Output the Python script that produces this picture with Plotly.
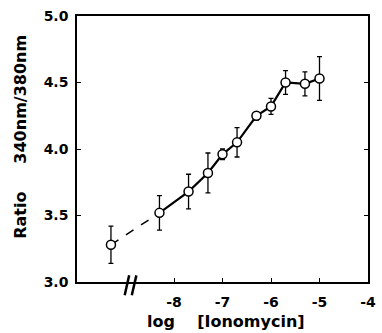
import plotly.graph_objects as go

# log [Ionomycin] (first point = control, plotted left of the axis break)
log_conc = [-9.3, -8.3, -7.7, -7.3, -7.0, -6.7, -6.3, -6.0, -5.7, -5.3, -5.0]
ratio = [3.28, 3.52, 3.68, 3.82, 3.96, 4.05, 4.25, 4.32, 4.50, 4.49, 4.53]
ratio_err = [0.14, 0.13, 0.13, 0.15, 0.04, 0.11, 0.03, 0.06, 0.09, 0.09, 0.165]

x_tickvals = [-8, -7, -6, -5, -4]
x_ticktext = ["-8", "-7", "-6", "-5", "-4"]
y_tickvals = [3.0, 3.5, 4.0, 4.5, 5.0]

FONT = "DejaVu Sans"

fig = go.Figure()

# dashed segment from control to first concentration
fig.add_trace(go.Scatter(
    x=log_conc[:2], y=ratio[:2], mode="lines",
    line=dict(color="black", width=1.5, dash="dash"),
    hoverinfo="skip", showlegend=False,
))
# solid line through concentration points
fig.add_trace(go.Scatter(
    x=log_conc[1:], y=ratio[1:], mode="lines",
    line=dict(color="black", width=2.2),
    hoverinfo="skip", showlegend=False,
))
# markers with error bars
fig.add_trace(go.Scatter(
    x=log_conc, y=ratio, mode="markers",
    marker=dict(symbol="circle", size=9, color="white",
                line=dict(color="black", width=1.5)),
    error_y=dict(type="data", array=ratio_err, visible=True,
                 color="black", thickness=1.3, width=2.5),
    showlegend=False,
))

# axis break marks
for x0, x1 in [(0.1639, 0.1793), (0.1883, 0.2040)]:
    fig.add_shape(type="line", xref="paper", yref="paper",
                  x0=x0, y0=-0.05, x1=x1, y1=0.025,
                  line=dict(color="black", width=2.5))

NB = "\u00a0"
fig.add_annotation(
    text="Ratio" + NB * 5 + "340nm/380nm", textangle=-90,
    xref="paper", yref="paper", x=-0.195, y=0.547,
    xanchor="center", yanchor="middle", showarrow=False,
    font=dict(family=FONT, size=16, color="black", weight="bold"),
)
fig.add_annotation(
    text="log" + NB * 4 + "[Ionomycin]",
    xref="paper", yref="paper", x=0.512, y=-0.150,
    xanchor="center", yanchor="middle", showarrow=False,
    font=dict(family=FONT, size=16, color="black", weight="bold"),
)

fig.update_layout(
    width=382, height=333,
    margin=dict(l=77, r=6, t=16, b=51),
    paper_bgcolor="white", plot_bgcolor="white",
    font=dict(family=FONT, size=14, color="black", weight="bold"),
    xaxis=dict(
        range=[-10, -4], tickvals=x_tickvals, ticktext=x_ticktext,
        ticks="inside", ticklen=4, tickwidth=1, tickcolor="black",
        showline=True, linecolor="black", linewidth=1.5, mirror=True,
        showgrid=False, zeroline=False, ticklabelstandoff=6,
        ticklabeloverflow="allow",
        tickfont=dict(family=FONT, size=14, color="black", weight="bold"),
    ),
    yaxis=dict(
        range=[3.0, 5.0], tickvals=y_tickvals, tickformat=".1f",
        ticks="inside", ticklen=4, tickwidth=1, tickcolor="black",
        showline=True, linecolor="black", linewidth=1.5, mirror="ticks",
        showgrid=False, zeroline=False, ticklabelstandoff=4,
        ticklabeloverflow="allow",
        tickfont=dict(family=FONT, size=14, color="black", weight="bold"),
    ),
)

fig.write_html("out.html")
